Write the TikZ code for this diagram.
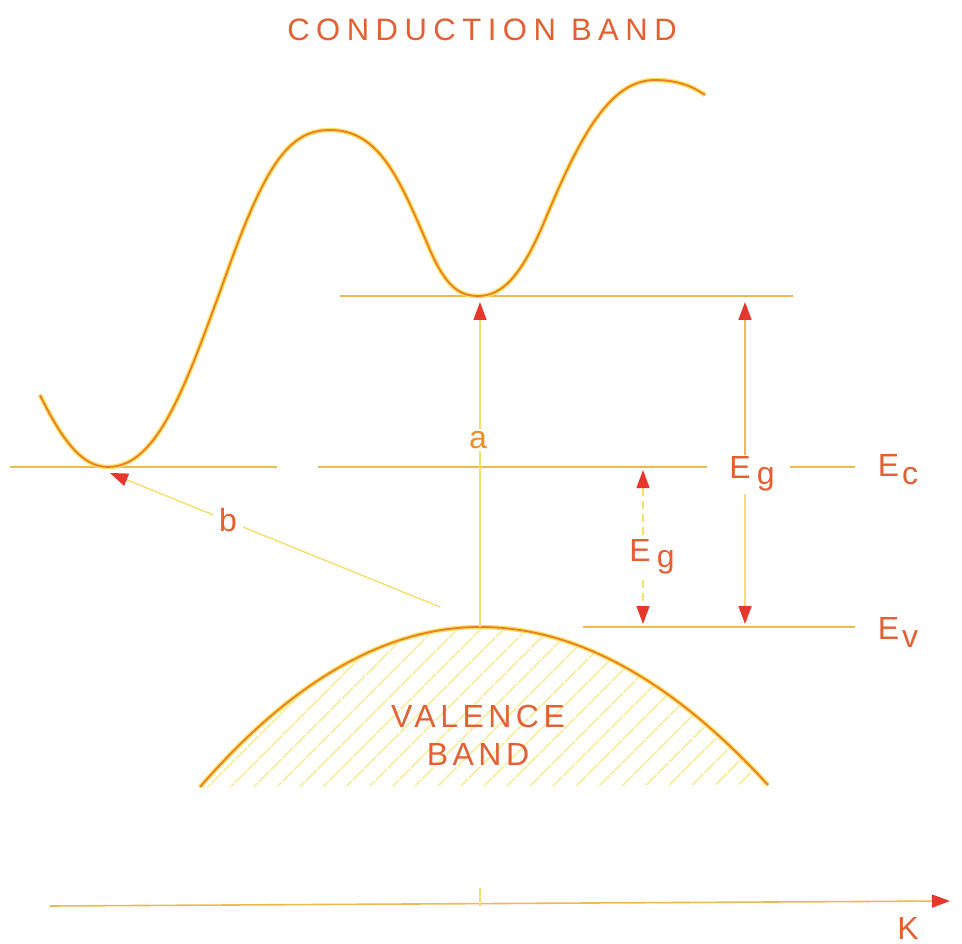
\documentclass[tikz,border=0pt]{standalone}
\usepackage{fontspec}
\setmainfont{Liberation Sans}
\usetikzlibrary{arrows.meta,patterns.meta}
\definecolor{txt}{RGB}{228,95,50}
\definecolor{curvec}{RGB}{235,125,40}
\definecolor{glowc}{RGB}{250,225,95}
\definecolor{lvlc}{RGB}{238,185,80}
\definecolor{thinc}{RGB}{246,222,110}
\definecolor{tipc}{RGB}{230,55,45}
\definecolor{hatchc}{RGB}{246,236,150}
\begin{document}
\begin{tikzpicture}[x=1pt,y=-1pt,
  lvl/.style={draw=lvlc,line width=1.6pt},
  thinln/.style={draw=thinc,line width=1.4pt},
  band/.style={draw=curvec,line width=1.8pt,preaction={draw=glowc,line width=4.5pt}},
  tipped/.style={-{Triangle[length=18pt,width=13pt,color=tipc]}},
  lbl/.style={text=txt,font=\fontsize{32}{34}\selectfont\addfontfeatures{LetterSpace=14},inner sep=2pt,align=center},
  ttl/.style={text=txt,font=\fontsize{31}{32}\selectfont\addfontfeatures{LetterSpace=21},inner sep=2pt}
  ]
\useasboundingbox (0,0) rectangle (962,944);

% title
\node[ttl] (title) at (482,30) {CONDUCTION BAND};

% key coordinates
\coordinate (cmin1) at (112,468);
\coordinate (cmin2) at (478,296);
\coordinate (vtop) at (480,627);

% valence band hatch
\path[pattern={Lines[angle=45,distance=17pt,line width=2pt]},pattern color=hatchc]
  (200,787) .. controls (293,680) and (387,627) .. (480,627)
  .. controls (576,627) and (672,680) .. (768,785) -- cycle;

% energy levels
\draw[lvl] (10,467) -- (277,467);
\draw[lvl] (318,467) -- (707,467);
\draw[lvl] (790,467) -- (855,467);
\draw[lvl] (340,296) -- (793,296);
\draw[lvl] (583,627) -- (855,627);

% conduction band curve
\draw[band] (40,395) .. controls (62,440) and (82,467) .. (108,467)
  .. controls (158,467) and (186,385) .. (226,275)
  .. controls (266,162) and (290,130) .. (330,130)
  .. controls (380,130) and (400,180) .. (430,250)
  .. controls (446,287) and (460,296) .. (478,296)
  .. controls (500,296) and (520,280) .. (545,220)
  .. controls (580,136) and (610,80) .. (655,80)
  .. controls (680,80) and (695,88) .. (705,95);

% valence band curve
\draw[band] (200,787) .. controls (293,680) and (387,627) .. (480,627)
  .. controls (576,627) and (672,680) .. (768,785);

% transition a
\coordinate (atip) at (480,302);
\draw[thinln,tipped] (vtop) -- (atip);
\node[lbl,fill=white,text=txt!70!yellow] (a) at (478,440) {a};

% transition b
\coordinate (bstart) at (440,607);
\coordinate (btip) at (110,473);
\draw[thinln,tipped] (bstart) -- (btip);
\node[lbl,fill=white,inner sep=6pt] (b) at (228,520) {b};

% right Eg
\node[lbl] (eg1) at (752,474) {E\hspace{6pt}\raisebox{-6pt}{g}};
\coordinate (eg1top) at (745,302);
\coordinate (eg1bot) at (745,624);
\coordinate (eg1a) at (745,455);
\coordinate (eg1b) at (745,494);
\draw[lvl,tipped] (eg1a) -- (eg1top);
\draw[thinln,tipped] (eg1b) -- (eg1bot);

% left Eg
\node[lbl] (eg2) at (652,557) {E\hspace{6pt}\raisebox{-6pt}{g}};
\coordinate (eg2top) at (643,470);
\coordinate (eg2bot) at (643,624);
\coordinate (eg2a) at (643,535);
\coordinate (eg2b) at (643,580);
\draw[thinln,dashed,dash pattern=on 8pt off 5pt,tipped] (eg2a) -- (eg2top);
\draw[thinln,dashed,dash pattern=on 8pt off 5pt,tipped] (eg2b) -- (eg2bot);

% Ec, Ev labels
\node[lbl] (ec) at (898,470) {E\hspace{3pt}\raisebox{-8pt}{c}};
\node[lbl] (ev) at (898,632) {E\hspace{3pt}\raisebox{-8pt}{v}};

% valence label
\node[lbl] (val) at (478,735) {VALENCE\\[4pt]BAND};

% k axis
\coordinate (k0) at (50,906);
\coordinate (k1) at (950,901);
\coordinate (tk0) at (480,906);
\coordinate (tk1) at (480,888);
\draw[lvl,tipped] (k0) -- (k1);
\draw[thinln] (tk0) -- (tk1);
\node[lbl] (k) at (908,928) {K};
\end{tikzpicture}
\end{document}
